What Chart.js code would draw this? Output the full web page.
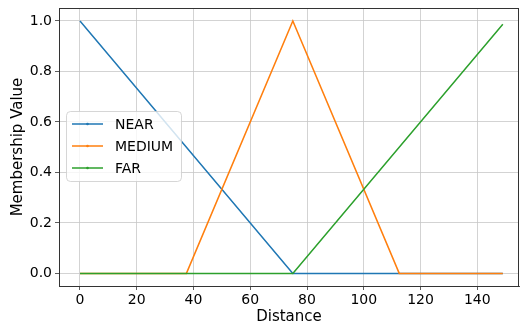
<!DOCTYPE html>
<html>
<head>
<meta charset="utf-8">
<script src="https://cdn.jsdelivr.net/npm/chart.js@4/dist/chart.umd.min.js"></script>
<style>
  html, body { margin: 0; padding: 0; background: #fff; }
  #wrap { width: 520px; height: 326px; }
</style>
</head>
<body>
<div id="wrap"><canvas id="chart" width="520" height="326"></canvas></div>
<script>
// --- datos (esquinas de cada funcion de pertenencia) ---
const seriesNames = ['NEAR', 'MEDIUM', 'FAR'];
const seriesColors = ['#1f77b4', '#ff7f0e', '#2ca02c'];
const nearX = [0, 75, 149];
const nearY = [1, 0, 0];
const mediumX = [0, 37.5, 75, 112.5, 149];
const mediumY = [0, 0, 1, 0, 0];
const farX = [0, 75, 149];
const farY = [0, 0, 0.987];
const xTicks = [0, 20, 40, 60, 80, 100, 120, 140];
const yTicks = [0, 0.2, 0.4, 0.6, 0.8, 1.0];

const FONT = 'DejaVu Sans';
const pts = (xs, ys) => xs.map((x, i) => ({ x: x, y: ys[i] }));

// marco superior/derecho + leyenda
const framePlugin = {
    id: 'frame',
    afterDraw(chart) {
        const { ctx, chartArea: a } = chart;
        ctx.save();
        ctx.strokeStyle = '#333';
        ctx.lineWidth = 1;
        ctx.strokeRect(a.left + 0.5, a.top + 0.5, a.right - a.left - 1, a.bottom - a.top);

        // leyenda
        const bx = 66.5, by = 111.5, bw = 115, bh = 70, r = 4;
        ctx.beginPath();
        ctx.roundRect(bx, by, bw, bh, r);
        ctx.fillStyle = 'rgba(255,255,255,0.8)';
        ctx.fill();
        ctx.strokeStyle = 'rgba(204,204,204,0.8)';
        ctx.stroke();
        ctx.font = '14px ' + FONT;
        ctx.textBaseline = 'middle';
        seriesNames.forEach((n, i) => {
            const y = 124 + i * 22;
            ctx.strokeStyle = seriesColors[i];
            ctx.lineWidth = 1.5;
            ctx.beginPath();
            ctx.moveTo(72, y);
            ctx.lineTo(103, y);
            ctx.stroke();
            ctx.fillStyle = seriesColors[i];
            ctx.beginPath();
            ctx.arc(87.5, y, 1.3, 0, Math.PI * 2);
            ctx.fill();
            ctx.fillStyle = '#000';
            ctx.fillText(n, 115, y + 1);
        });
        ctx.restore();
    }
};

const mk = (i, data, order) => ({
    label: seriesNames[i],
    data: data,
    borderColor: seriesColors[i],
    backgroundColor: seriesColors[i],
    borderWidth: 1.5,
    pointRadius: 0,
    tension: 0,
    order: order
});

new Chart(document.getElementById('chart'), {
    type: 'line',
    data: {
        datasets: [
            mk(0, pts(nearX, nearY), 2),
            mk(1, pts(mediumX, mediumY), 1),
            mk(2, pts(farX, farY), 0)
        ]
    },
    options: {
        responsive: false,
        animation: false,
        layout: { padding: { top: 8, right: 1, left: 0, bottom: 0 } },
        plugins: { legend: { display: false }, tooltip: { enabled: false } },
        scales: {
            x: {
                type: 'linear',
                min: -7.4,
                max: 154.7,
                afterBuildTicks: s => { s.ticks = xTicks.map(v => ({ value: v })); },
                afterFit: s => { s.height = 40; s.paddingLeft = 0; s.paddingRight = 0; },
                grid: { color: '#c8c8c8', lineWidth: 0.8, tickLength: 4, tickColor: '#333', drawOnChartArea: true },
                border: { color: '#333', width: 1 },
                ticks: { color: '#000', font: { family: FONT, size: 14 }, padding: 2, maxRotation: 0 },
                title: { display: true, text: 'Distance', color: '#000', font: { family: FONT, size: 15 }, padding: { top: 0, bottom: 0 } }
            },
            y: {
                type: 'linear',
                min: -0.05,
                max: 1.0515,
                afterBuildTicks: s => { s.ticks = yTicks.map(v => ({ value: v })); },
                afterFit: s => { s.width = 59; s.paddingTop = 0; s.paddingBottom = 0; },
                grid: { color: '#c8c8c8', lineWidth: 0.8, tickLength: 4, tickColor: '#333' },
                border: { color: '#333', width: 1 },
                ticks: { color: '#000', font: { family: FONT, size: 14 }, padding: 3, callback: v => v.toFixed(1) },
                title: { display: true, text: 'Membership Value', color: '#000', font: { family: FONT, size: 15 }, padding: { top: 9, bottom: 0 } }
            }
        }
    },
    plugins: [framePlugin]
});
</script>
</body>
</html>
